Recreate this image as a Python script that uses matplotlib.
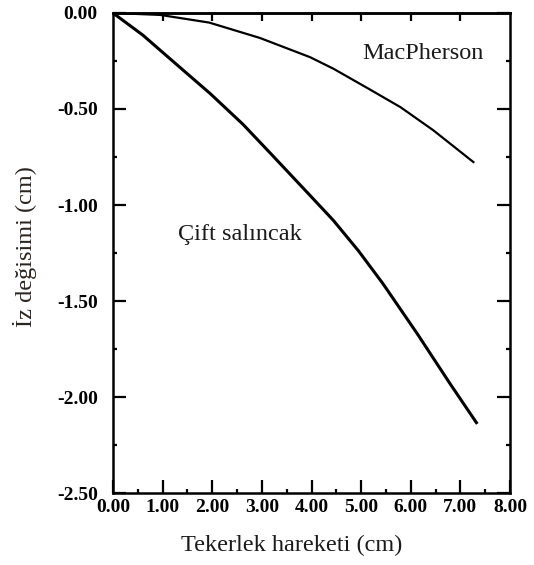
import numpy as np
import matplotlib.pyplot as plt
from matplotlib.ticker import MultipleLocator, FormatStrFormatter

# Çift salıncak (double wishbone)
cift_x = [0.0, 0.60, 1.29, 1.96, 2.62, 3.17, 3.97, 4.44, 4.95, 5.44, 6.13, 6.79, 7.34]
cift_y = [0.0, -0.115, -0.27, -0.42, -0.58, -0.73, -0.95, -1.08, -1.24, -1.41, -1.67, -1.93, -2.14]

# MacPherson
mac_x = [0.0, 0.95, 1.94, 2.96, 3.97, 4.44, 5.12, 5.79, 6.45, 7.28]
mac_y = [0.0, -0.01, -0.05, -0.13, -0.23, -0.29, -0.39, -0.49, -0.61, -0.78]

serif = 'Liberation Serif'

fig = plt.figure(figsize=(5.34, 5.65), dpi=100)
ax = fig.add_axes([0.2116, 0.1274, 0.7435, 0.8496])

ax.plot(cift_x, cift_y, color='black', lw=2.2, solid_capstyle='butt', solid_joinstyle='round')
ax.plot(mac_x, mac_y, color='black', lw=1.6, solid_capstyle='butt', solid_joinstyle='round')

ax.text(5.02, -0.24, 'MacPherson', fontsize=17.5, family=serif, color='#1a1a1a')
ax.text(1.31, -1.18, 'Çift salıncak', fontsize=17.5, family=serif, color='#1a1a1a')

ax.set_xlim(0, 8)
ax.set_ylim(-2.5, 0)
ax.xaxis.set_major_locator(MultipleLocator(1))
ax.xaxis.set_minor_locator(MultipleLocator(0.5))
ax.yaxis.set_major_locator(MultipleLocator(0.5))
ax.yaxis.set_minor_locator(MultipleLocator(0.25))
ax.xaxis.set_major_formatter(FormatStrFormatter('%.2f'))
ax.yaxis.set_major_formatter(FormatStrFormatter('%.2f'))

ax.tick_params(which='both', direction='in', right=True, top=False, width=1.6)
ax.tick_params(which='major', length=9.5)
ax.tick_params(which='minor', length=3)
ax.tick_params(axis='y', which='major', pad=11)
ax.tick_params(axis='x', which='major', pad=4)
for lab in ax.get_xticklabels() + ax.get_yticklabels():
    lab.set_fontfamily(serif)
    lab.set_fontweight('bold')
    lab.set_fontsize(14)

top = ax.secondary_xaxis('top')
top.set_xticks(np.arange(1, 8))
top.tick_params(direction='in', length=6, width=1.6, labeltop=False)

for s in ax.spines.values():
    s.set_linewidth(1.8)
for s in top.spines.values():
    s.set_linewidth(1.8)

fig.text(0.547, 0.024, 'Tekerlek hareketi (cm)', fontsize=17.5, family=serif,
         ha='center', va='baseline', color='#1a1a1a')
fig.text(0.047, 0.563, 'İz değisimi (cm)', fontsize=17.5, family=serif,
         ha='center', va='center', rotation=90, color='#2a2420')

fig.savefig('out.png', dpi=100)
